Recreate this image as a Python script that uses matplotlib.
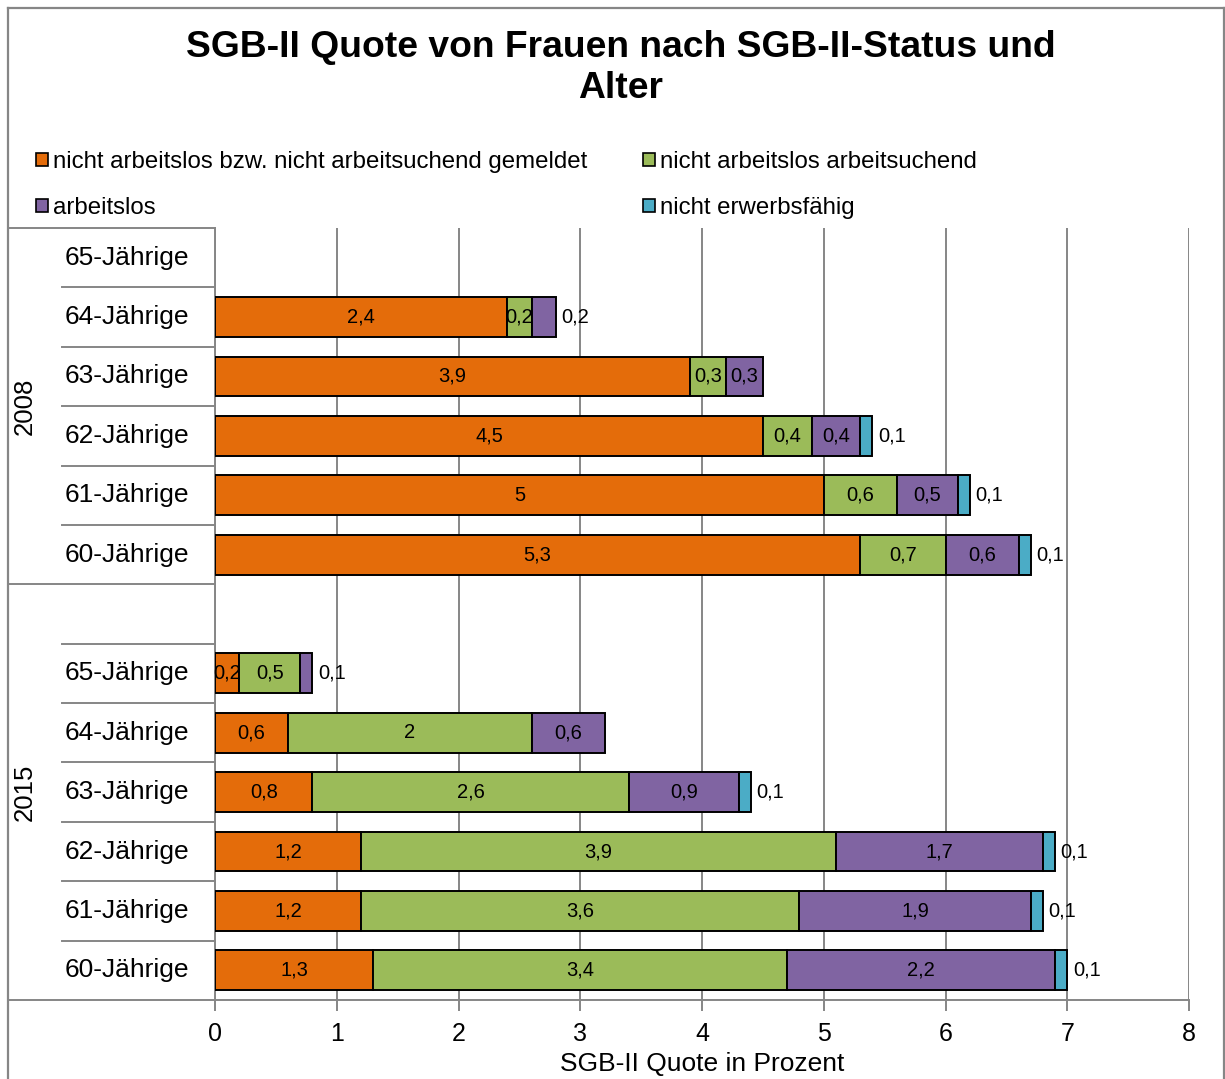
import matplotlib
matplotlib.use("Agg")
import matplotlib.pyplot as plt
from matplotlib.patches import Patch
from matplotlib.lines import Line2D

plt.rcParams['font.family'] = ['Liberation Sans', 'DejaVu Sans']

# ---------------- data ----------------
groups = ["2008", "2015"]
ages_2008 = ["65-Jährige", "64-Jährige", "63-Jährige", "62-Jährige", "61-Jährige", "60-Jährige"]
ages_2015 = ["", "65-Jährige", "64-Jährige", "63-Jährige", "62-Jährige", "61-Jährige", "60-Jährige"]
categories = ages_2008 + ages_2015

series_names = ["nicht arbeitslos bzw. nicht arbeitsuchend gemeldet",
                "nicht arbeitslos arbeitsuchend",
                "arbeitslos",
                "nicht erwerbsfähig"]
colors = ["#E46C0A", "#9BBB59", "#8064A2", "#4BACC6"]

nicht_gemeldet = [0, 2.4, 3.9, 4.5, 5.0, 5.3, 0, 0.2, 0.6, 0.8, 1.2, 1.2, 1.3]
arbeitsuchend  = [0, 0.2, 0.3, 0.4, 0.6, 0.7, 0, 0.5, 2.0, 2.6, 3.9, 3.6, 3.4]
arbeitslos     = [0, 0.2, 0.3, 0.4, 0.5, 0.6, 0, 0.1, 0.6, 0.9, 1.7, 1.9, 2.2]
erwerbsunf     = [0, 0.0, 0.0, 0.1, 0.1, 0.1, 0, 0.0, 0.0, 0.1, 0.1, 0.1, 0.1]
series = [nicht_gemeldet, arbeitsuchend, arbeitslos, erwerbsunf]

xticks = [0, 1, 2, 3, 4, 5, 6, 7, 8]
xlabel = "SGB-II Quote in Prozent"
title = "SGB-II Quote von Frauen nach SGB-II-Status und\nAlter"

def fmt(v):
    s = ("%.1f" % v).rstrip("0").rstrip(".")
    return s.replace(".", ",")

# ---------------- figure ----------------
W, H = 1225, 1079
fig = plt.figure(figsize=(W / 100, H / 100), dpi=100)
ax = fig.add_axes([215 / W, 1 - 1000 / H, (1189 - 215) / W, (1000 - 228) / H])

gray = "#868686"
n = len(categories)
left = [0.0] * n
for k, (vals, col, name) in enumerate(zip(series, colors, series_names)):
    idx = [i for i, v in enumerate(vals) if v > 0]
    ax.barh(idx, [vals[i] for i in idx], left=[left[i] for i in idx], height=0.67,
            color=col, edgecolor="black", linewidth=1.4, label=name, zorder=3)
    for i in idx:
        v = vals[i]
        last = all(series[j][i] == 0 for j in range(k + 1, len(series)))
        if last and v <= 0.2:
            ax.annotate(fmt(v), (left[i] + v, i), xytext=(4, 0), textcoords="offset points",
                        ha="left", va="center", fontsize=14.5, zorder=5)
        else:
            ax.text(left[i] + v / 2, i, fmt(v), ha="center", va="center", fontsize=14.5, zorder=5)
    left = [a + b for a, b in zip(left, vals)]

ax.set_xlim(0, 8)
ax.set_ylim(n - 0.5, -0.5)
ax.set_xticks(xticks)
ax.set_xticklabels([str(t) for t in xticks], fontsize=18)
ax.set_yticks([])
ax.tick_params(axis="x", length=8, width=1.4, color=gray, pad=8)
ax.grid(axis="x", color=gray, linewidth=1.4, zorder=0)
ax.set_axisbelow(True)
for s in ["top", "right"]:
    ax.spines[s].set_visible(False)
for s in ["left", "bottom"]:
    ax.spines[s].set_color(gray)
    ax.spines[s].set_linewidth(1.4)
ax.set_xlabel(xlabel, fontsize=19, labelpad=4)

# category labels (multi-level)
axw = 1189 - 215
x_inner = (62 - 215) / axw
x_outer = (8 - 215) / axw
x_lab = (127 - 215) / axw
x_grp = (25 - 215) / axw
trans = ax.get_yaxis_transform()
for i, c in enumerate(categories):
    if c:
        ax.text(x_lab, i, c, transform=trans, ha="center", va="center", fontsize=19, clip_on=False)
n08 = len(ages_2008)
for b in range(n + 1):
    yb = b - 0.5
    x0 = x_outer if b in (0, n08, n) else x_inner
    ax.add_line(Line2D([x0, 0], [yb, yb], transform=trans, color=gray, linewidth=1.4, clip_on=False))
ax.text(x_grp, (n08 - 1) / 2, groups[0], transform=trans, rotation=90, ha="center", va="center",
        fontsize=18.5, clip_on=False)
ax.text(x_grp, n08 + (len(ages_2015) - 1) / 2, groups[1], transform=trans, rotation=90, ha="center",
        va="center", fontsize=18.5, clip_on=False)

# chart frame
fx0, fx1, fy0 = 8 / W, 1224 / W, 1 - 8 / H
for xs, ys in [([fx0, fx1], [fy0, fy0]), ([fx0, fx0], [0, fy0]), ([fx1, fx1], [0, fy0])]:
    fig.add_artist(Line2D(xs, ys, transform=fig.transFigure, color=gray, linewidth=1.6))

# title
fig.text(621 / W, 1 - 68 / H, title, ha="center", va="center", fontsize=26.8, fontweight="bold",
         linespacing=1.2)

# legend
handles = [Patch(facecolor=c, edgecolor="black", linewidth=1.2) for c in colors]
order = [0, 2, 1, 3]
leg = fig.legend([handles[i] for i in order], [series_names[i] for i in order],
                 ncol=2, loc="upper left", bbox_to_anchor=(36 / W, 1 - 151 / H),
                 frameon=False, fontsize=17.3, handlelength=0.5, handleheight=0.5,
                 handletextpad=0.22, columnspacing=2.3, labelspacing=1.0,
                 borderpad=0, borderaxespad=0)

fig.savefig("out.png", dpi=100)
